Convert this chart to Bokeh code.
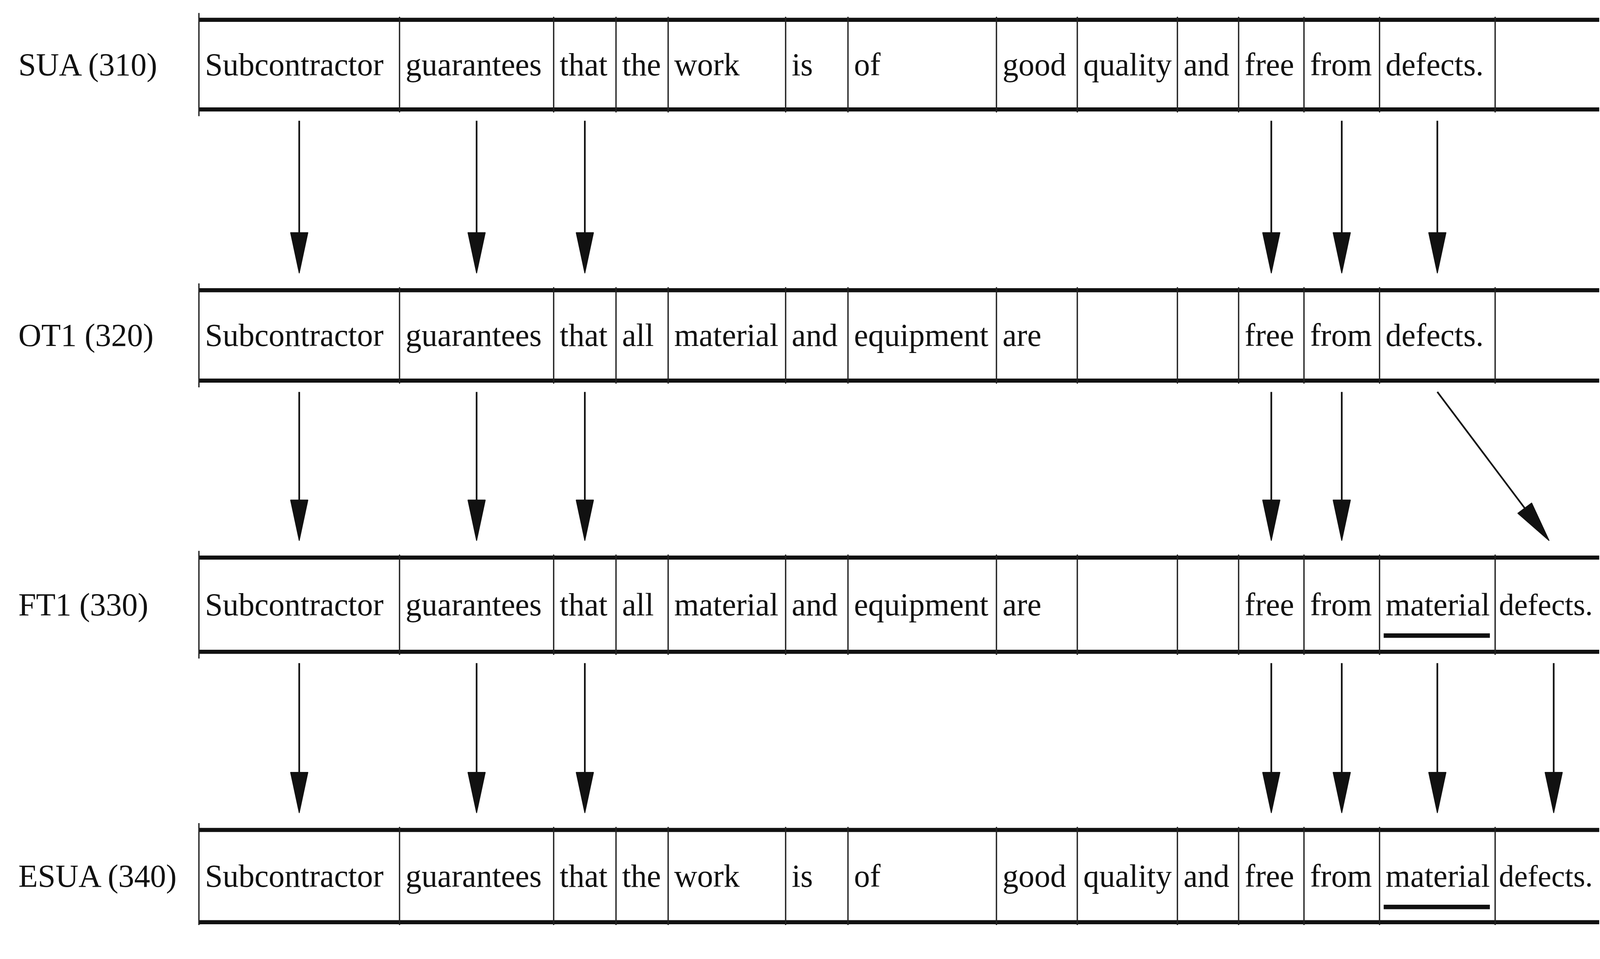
import math
from bokeh.plotting import figure
from bokeh.models import Range1d
from bokeh.embed import file_html
from bokeh.resources import INLINE
from bokeh.core.properties import value

# ---------------- data ----------------
row_labels = ["SUA (310)", "OT1 (320)", "FT1 (330)", "ESUA (340)"]
row_words = [
    ["Subcontractor", "guarantees", "that", "the", "work", "is", "of",
     "good", "quality", "and", "free", "from", "defects.", ""],
    ["Subcontractor", "guarantees", "that", "all", "material", "and", "equipment",
     "are", "", "", "free", "from", "defects.", ""],
    ["Subcontractor", "guarantees", "that", "all", "material", "and", "equipment",
     "are", "", "", "free", "from", "material", "defects."],
    ["Subcontractor", "guarantees", "that", "the", "work", "is", "of",
     "good", "quality", "and", "free", "from", "material", "defects."],
]
# (row, column) of underlined words
underlined = [(2, 12), (3, 12)]
# (from_row, from_column, to_column) : arrow from row to row+1
links = [
    (0, 0, 0), (0, 1, 1), (0, 2, 2), (0, 10, 10), (0, 11, 11), (0, 12, 12),
    (1, 0, 0), (1, 1, 1), (1, 2, 2), (1, 10, 10), (1, 11, 11), (1, 12, 13),
    (2, 0, 0), (2, 1, 1), (2, 2, 2), (2, 10, 10), (2, 11, 11), (2, 12, 12), (2, 13, 13),
]

# ---------------- layout ----------------
W, H = 4233, 2456
col_edges = [526, 1057, 1465, 1630, 1768, 2079, 2244, 2637, 2851, 3116, 3278,
             3451, 3651, 3957, 4267]
row_top = [52, 770, 1480, 2203]
row_bot = [290, 1010, 1730, 2448]
FONT = value("Liberation Serif")
FSIZE = "81.5px"
FSIZE_EDGE = "78px"   # last (edge-cut) column, kept inside the page
INK = "#111111"

p = figure(width=4094, height=2369, x_range=Range1d(0, W), y_range=Range1d(H, 0),
           output_backend="svg", toolbar_location=None, min_border=0,
           x_axis_type=None, y_axis_type=None)
p.grid.visible = False
p.outline_line_color = None
p.background_fill_color = "white"
p.border_fill_color = "white"

# horizontal borders
hx0, hx1, hy = [], [], []
for r in range(len(row_labels)):
    for y in (row_top[r], row_bot[r]):
        hx0.append(col_edges[0]); hx1.append(col_edges[-1]); hy.append(y)
p.segment(x0=hx0, y0=hy, x1=hx1, y1=hy, line_color=INK, line_width=10.5)

# vertical separators
vx, vy0, vy1 = [], [], []
for r in range(len(row_labels)):
    for i, e in enumerate(col_edges):
        ext = 18 if i == 0 else 8
        vx.append(e); vy0.append(row_top[r] - ext); vy1.append(row_bot[r] + ext)
p.segment(x0=vx, y0=vy0, x1=vx, y1=vy1, line_color="#222222", line_width=3.4)

# words
last = len(col_edges) - 2
tx, ty, tt = [], [], []
ex, ey, et = [], [], []
for r, words in enumerate(row_words):
    yc = (row_top[r] + row_bot[r]) / 2
    for c, w in enumerate(words):
        if not w:
            continue
        if c == last:
            ex.append(col_edges[c] + 10); ey.append(yc); et.append(w)
        else:
            tx.append(col_edges[c] + 16); ty.append(yc); tt.append(w)
p.text(x=tx, y=ty, text=tt, text_font=FONT, text_font_size=FSIZE,
       text_baseline="middle", text_align="left", text_color=INK)
p.text(x=ex, y=ey, text=et, text_font=FONT, text_font_size=FSIZE_EDGE,
       text_baseline="middle", text_align="left", text_color=INK)

# row labels
lx = [48] * len(row_labels)
ly = [(row_top[r] + row_bot[r]) / 2 for r in range(len(row_labels))]
p.text(x=lx, y=ly, text=row_labels, text_font=FONT, text_font_size=FSIZE,
       text_baseline="middle", text_align="left", text_color=INK)

# underlines
ux0, ux1, uy = [], [], []
for r, c in underlined:
    yc = (row_top[r] + row_bot[r]) / 2
    ux0.append(col_edges[c] + 11); ux1.append(col_edges[c + 1] - 14); uy.append(yc + 82)
p.segment(x0=ux0, y0=uy, x1=ux1, y1=uy, line_color=INK, line_width=11.5)

# arrows
HEAD_L, HEAD_W = 108, 46
sx0, sy0, sx1, sy1 = [], [], [], []
heads_x, heads_y = [], []
for r, c0, c1 in links:
    x0 = (col_edges[c0] + col_edges[c0 + 1]) / 2
    x1 = (col_edges[c1] + col_edges[c1 + 1]) / 2
    if c1 != c0:
        x1 -= 12
    y0 = row_bot[r] + 30
    y1 = row_top[r + 1] - 45
    L = math.hypot(x1 - x0, y1 - y0)
    dx, dy = (x1 - x0) / L, (y1 - y0) / L
    bx, by = x1 - HEAD_L * dx, y1 - HEAD_L * dy
    nx, ny = -dy, dx
    sx0.append(x0); sy0.append(y0); sx1.append(bx); sy1.append(by)
    heads_x.append([x1, bx + nx * HEAD_W / 2, bx - nx * HEAD_W / 2])
    heads_y.append([y1, by + ny * HEAD_W / 2, by - ny * HEAD_W / 2])
p.segment(x0=sx0, y0=sy0, x1=sx1, y1=sy1, line_color=INK, line_width=4.3)
p.patches(xs=heads_x, ys=heads_y, fill_color=INK, line_color=INK, line_width=2)

open("out.html", "w").write(file_html(p, INLINE))
